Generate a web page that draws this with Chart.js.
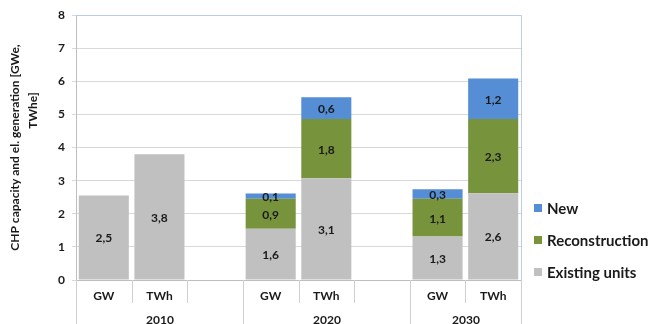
<!DOCTYPE html>
<html>
<head>
<meta charset="utf-8">
<script src="https://cdn.jsdelivr.net/npm/chart.js@4.4.1/dist/chart.umd.min.js"></script>
<style>
  body { margin: 0; background: #fff; }
  #wrap { width: 649px; height: 324px; }
</style>
</head>
<body>
<div id="wrap"><canvas id="chpChart"></canvas></div>
<script>
// categories: unit per slot and the year group each slot belongs to
const units = ['GW', 'TWh', '', 'GW', 'TWh', '', 'GW', 'TWh'];
const years = ['2010', '2010', '2010', '2020', '2020', '2020', '2030', '2030'];

// series values (bar heights)
const existingUnits = [2.55, 3.8, null, 1.55, 3.07, null, 1.31, 2.62];
const reconstruction = [null, null, null, 0.9, 1.79, null, 1.14, 2.24];
const newUnits = [null, null, null, 0.16, 0.66, null, 0.29, 1.22];

// value labels as printed on the bars
const existingLabels = ['2,5', '3,8', '', '1,6', '3,1', '', '1,3', '2,6'];
const reconstructionLabels = ['', '', '', '0,9', '1,8', '', '1,1', '2,3'];
const newLabels = ['', '', '', '0,1', '0,6', '', '0,3', '1,2'];

const yTicks = [0, 1, 2, 3, 4, 5, 6, 7, 8];
const yTitle = ['CHP capacity and el. generation [GWe,', 'TWhe]'];

const FONT = 'Lato, "Open Sans", sans-serif';

// numbers inside the bars
const barLabels = {
    id: 'barLabels',
    afterDatasetsDraw(chart) {
        const ctx = chart.ctx;
        ctx.save();
        ctx.font = 'bold 12px ' + FONT;
        ctx.fillStyle = '#1a1a1a';
        ctx.textAlign = 'center';
        ctx.textBaseline = 'middle';
        chart.data.datasets.forEach((ds, di) => {
            chart.getDatasetMeta(di).data.forEach((bar, i) => {
                const txt = ds.valueLabels[i];
                if (!txt || ds.data[i] == null) return;
                const c = bar.getCenterPoint();
                ctx.fillText(txt, c.x, c.y + 1);
            });
        });
        ctx.restore();
    }
};

// two-level category axis, plot borders, y title and the legend at the right
const frame = {
    id: 'frame',
    afterDraw(chart) {
        const ctx = chart.ctx;
        const area = chart.chartArea;
        const x = chart.scales.x;
        const n = units.length;
        const step = x.getPixelForValue(1) - x.getPixelForValue(0);
        const edge = i => Math.round(x.getPixelForValue(0) - step / 2 + i * step) + 0.5;

        ctx.save();
        ctx.lineWidth = 1;
        // blue border on top and right of the plot
        ctx.strokeStyle = '#b9cde5';
        ctx.beginPath();
        ctx.moveTo(area.left, area.top + 0.5);
        ctx.lineTo(edge(n), area.top + 0.5);
        ctx.lineTo(edge(n), area.bottom);
        ctx.stroke();

        // separators below the axis
        ctx.strokeStyle = '#d0d0d0';
        for (let i = 0; i <= n; i++) {
            const groupEdge = i === 0 || i === n || years[i] !== years[i - 1];
            ctx.beginPath();
            ctx.moveTo(edge(i), area.bottom);
            ctx.lineTo(edge(i), groupEdge ? chart.height : area.bottom + 23);
            ctx.stroke();
        }

        // year labels centred on their groups
        ctx.font = 'bold 12px ' + FONT;
        ctx.fillStyle = '#1a1a1a';
        ctx.textAlign = 'center';
        ctx.textBaseline = 'middle';
        let start = 0;
        for (let i = 1; i <= n; i++) {
            if (i === n || years[i] !== years[start]) {
                ctx.fillText(years[start], (edge(start) + edge(i)) / 2, area.bottom + 40);
                start = i;
            }
        }

        // y axis title, wrapped the way the original is
        const mid = (area.top + area.bottom) / 2;
        ctx.save();
        ctx.translate(15, mid);
        ctx.rotate(-Math.PI / 2);
        ctx.fillText(yTitle[0], 0, 0);
        ctx.fillText(yTitle[1], 37, 18);
        ctx.restore();

        // legend, last series on top
        ctx.font = 'bold 15px ' + FONT;
        ctx.textAlign = 'left';
        const items = chart.data.datasets.slice().reverse();
        items.forEach((ds, k) => {
            const cy = area.bottom - 72 + k * 32;
            ctx.fillStyle = ds.backgroundColor;
            ctx.fillRect(area.right + 13, cy - 4, 8, 8);
            ctx.fillStyle = '#1a1a1a';
            ctx.fillText(ds.label, area.right + 26, cy + 1);
        });
        ctx.restore();
    }
};

new Chart(document.getElementById('chpChart'), {
    type: 'bar',
    data: {
        labels: units,
        datasets: [
            { label: 'Existing units', data: existingUnits, valueLabels: existingLabels, backgroundColor: '#c0c0c0' },
            { label: 'Reconstruction', data: reconstruction, valueLabels: reconstructionLabels, backgroundColor: '#77933c' },
            { label: 'New', data: newUnits, valueLabels: newLabels, backgroundColor: '#558ed5' }
        ]
    },
    options: {
        responsive: true,
        maintainAspectRatio: false,
        animation: false,
        devicePixelRatio: 1,
        layout: { padding: { top: 15, right: 128, left: 0, bottom: 0 } },
        datasets: { bar: { barPercentage: 0.9, categoryPercentage: 1, borderWidth: 0 } },
        scales: {
            x: {
                stacked: true,
                grid: { display: false, drawTicks: false },
                border: { color: '#bfbfbf' },
                ticks: { padding: 9, color: '#1a1a1a', font: { family: FONT, size: 12, weight: 'bold' } },
                afterFit(scale) { scale.height = 44; }
            },
            y: {
                stacked: true,
                min: 0,
                max: 8,
                afterBuildTicks(scale) { scale.ticks = yTicks.map(v => ({ value: v })); },
                grid: { color: '#d9d9d9', tickLength: 4 },
                border: { color: '#bfbfbf' },
                ticks: { padding: 7, color: '#1a1a1a', font: { family: FONT, size: 12, weight: 'bold' } },
                afterFit(scale) { scale.width = 76; }
            }
        },
        plugins: {
            legend: { display: false },
            tooltip: { enabled: false }
        }
    },
    plugins: [barLabels, frame]
});
</script>
</body>
</html>
